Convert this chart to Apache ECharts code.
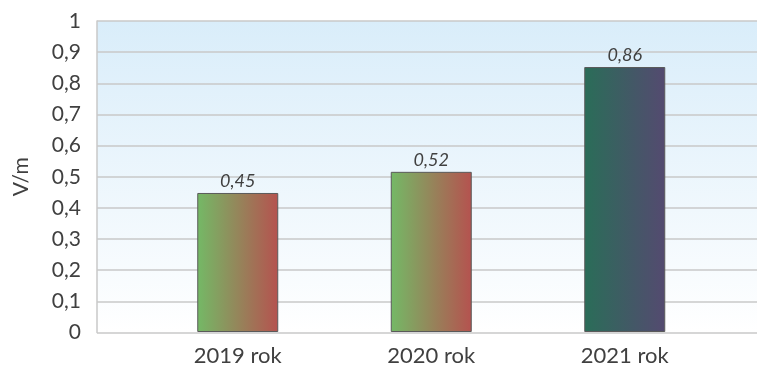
<!DOCTYPE html>
<html>
<head>
<meta charset="utf-8">
<script src="https://cdn.jsdelivr.net/npm/echarts@6/dist/echarts.min.js"></script>
<style>html,body{margin:0;padding:0;background:#fff;}#c{width:757px;height:367px;}</style>
</head>
<body>
<div id="c"></div>
<script>
var categories = ['2019 rok', '2020 rok', '2021 rok'];
var values = [0.447, 0.515, 0.852];
var valueLabels = ['0,45', '0,52', '0,86'];
var yTicks = [0, 0.1, 0.2, 0.3, 0.4, 0.5, 0.6, 0.7, 0.8, 0.9, 1];
var yAxisName = 'V/m';

var FONT = 'Lato';
function grad(a, b) {
  return new echarts.graphic.LinearGradient(0, 0, 1, 0, [{offset: 0, color: a}, {offset: 1, color: b}]);
}
var barColors = [grad('#74b966', '#b5524f'), grad('#74b966', '#b5524f'), grad('#2a6d58', '#544a70')];

var chart = echarts.init(document.getElementById('c'), null, {renderer: 'canvas'});
chart.setOption({
  animation: false,
  grid: [
    {left: 97, right: -2, top: 21, bottom: 34.5, show: true, borderWidth: 0,
     backgroundColor: new echarts.graphic.LinearGradient(0, 0, 0, 1, [
       {offset: 0, color: '#d9edfa'}, {offset: 1, color: '#ffffff'}])},
    {left: 141, width: 580.5, top: 21, bottom: 34.5}
  ],
  xAxis: [
    {gridIndex: 0, type: 'value', min: 0, max: 1, show: false},
    {gridIndex: 1, type: 'category', data: categories,
     axisLine: {show: false}, axisTick: {show: false},
     axisLabel: {color: '#404040', fontFamily: FONT, fontSize: 22, margin: 13}}
  ],
  yAxis: [
    {gridIndex: 0, type: 'value', min: 0, max: 1, interval: 0.1,
     name: yAxisName, nameLocation: 'middle', nameGap: 65, nameRotate: 90,
     nameTextStyle: {color: '#404040', fontFamily: FONT, fontSize: 21},
     axisLine: {show: true, lineStyle: {color: '#c8c8c8', width: 1.5}},
     axisTick: {show: false},
     splitLine: {show: true, lineStyle: {color: '#c8c8c8', width: 1.5}},
     axisLabel: {color: '#404040', fontFamily: FONT, fontSize: 21, margin: 16,
       formatter: function (v) {
         for (var i = 0; i < yTicks.length; i++) {
           if (Math.abs(yTicks[i] - v) < 1e-6) return String(yTicks[i]).replace('.', ',');
         }
         return '';
       }}},
    {gridIndex: 1, type: 'value', min: 0, max: 1, show: false}
  ],
  series: [{
    type: 'bar', xAxisIndex: 1, yAxisIndex: 1,
    barWidth: 81,
    data: values.map(function (v, i) {
      return {value: v, itemStyle: {color: barColors[i], borderColor: '#5a5a5a', borderWidth: 1}};
    }),
    label: {show: true, position: 'top', distance: 3, color: '#404040', fontFamily: FONT,
      fontSize: 18, fontStyle: 'italic',
      formatter: function (p) { return valueLabels[p.dataIndex]; }}
  }]
});
</script>
</body>
</html>
